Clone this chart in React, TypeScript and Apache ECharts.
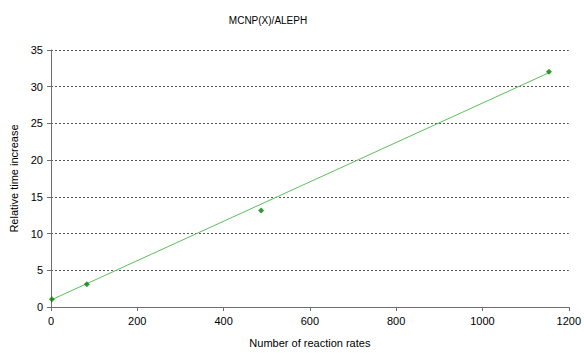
import React, { useEffect, useRef } from "react";
import * as echarts from "echarts";

const titleText = "MCNP(X)/ALEPH";
const xAxisName = "Number of reaction rates";
const yAxisName = "Relative time increase";
const reactionRates = [2, 83, 487, 1154];
const timeIncrease = [1.05, 3.1, 13.15, 32.05];
const trendX = [0, 1154];
const trendY = [0.95, 31.9];

const FONT = "Liberation Sans, Arial, sans-serif";

export default function App() {
  const ref = useRef<HTMLDivElement>(null);
  useEffect(() => {
    if (!ref.current) return;
    const chart = echarts.init(ref.current, undefined, { renderer: "svg" });
    chart.setOption({
      animation: false,
      backgroundColor: "#ffffff",
      textStyle: { fontFamily: FONT },
      title: {
        text: titleText,
        left: 263,
        top: 10,
        textAlign: "center",
        textStyle: { fontFamily: FONT, fontSize: 10, fontWeight: "normal", color: "#000" },
      },
      grid: { left: 49, right: 14, top: 50, bottom: 45.5, containLabel: false },
      xAxis: {
        type: "value",
        min: 0,
        max: 1200,
        interval: 200,
        name: xAxisName,
        nameLocation: "middle",
        nameGap: 30,
        nameTextStyle: { fontFamily: FONT, fontSize: 11, color: "#000" },
        axisLine: { show: true, lineStyle: { color: "#6e6e6e", width: 1 } },
        axisTick: { show: true, inside: false, length: 4, lineStyle: { color: "#6e6e6e" } },
        axisLabel: {
          fontFamily: FONT,
          fontSize: 11,
          color: "#000",
          margin: 8,
          formatter: (v: number) => String(v),
        },
        splitLine: { show: false },
      },
      yAxis: {
        type: "value",
        min: 0,
        max: 35,
        interval: 5,
        name: yAxisName,
        nameLocation: "middle",
        nameGap: 32,
        nameRotate: 90,
        nameTextStyle: { fontFamily: FONT, fontSize: 11, color: "#000" },
        axisLine: { show: true, lineStyle: { color: "#6e6e6e", width: 1 } },
        axisTick: { show: true, inside: false, length: 4, lineStyle: { color: "#6e6e6e" } },
        axisLabel: { fontFamily: FONT, fontSize: 11, color: "#000", margin: 8 },
        splitLine: { show: true, lineStyle: { color: "#555555", type: [2, 2], width: 1 } },
      },
      series: [
        {
          type: "line",
          data: trendX.map((x, i) => [x, trendY[i]]),
          symbol: "none",
          lineStyle: { color: "#5cbf5c", width: 1 },
          z: 2,
        },
        {
          type: "scatter",
          data: reactionRates.map((x, i) => [x, timeIncrease[i]]),
          symbol: "diamond",
          symbolSize: 6,
          itemStyle: { color: "#008000" },
          z: 3,
        },
      ],
    });
    return () => chart.dispose();
  }, []);
  return <div ref={ref} style={{ width: 584, height: 353, position: "absolute", left: 0, top: 0 }} />;
}
